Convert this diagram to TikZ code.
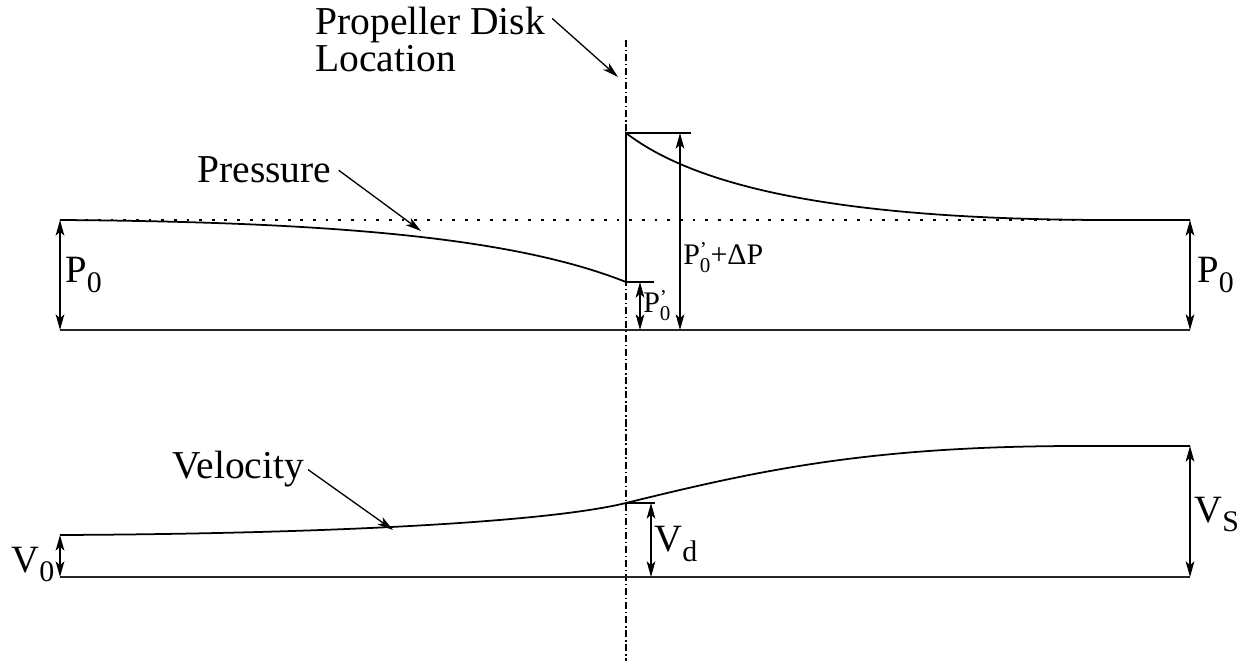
\documentclass[tikz,border=0pt]{standalone}
\usepackage{fontspec}
\setmainfont{Liberation Serif}
\usetikzlibrary{arrows.meta}
\newcommand\bigsub[1]{\raisebox{-0.24em}{\fontsize{17}{17}\selectfont #1}}
\newcommand\smsub[1]{\raisebox{-4pt}{\fontsize{12}{12}\selectfont #1}}
\newcommand\smprime{\rlap{\raisebox{5pt}{\fontsize{12}{12}\selectfont '}}}
\begin{document}
\begin{tikzpicture}[x=0.02cm,y=-0.02cm,
  tip/.tip={Stealth[length=9pt,width=5pt,inset=2.4pt]},
  curve/.style={line width=1pt},
  baseln/.style={line width=1.2pt, black!85},
  dimarrow/.style={{tip}-{tip}, line width=0.65pt},
  ptr/.style={-{tip}, line width=0.75pt},
  tick/.style={line width=0.9pt},
  disk/.style={line width=0.6pt, dash pattern=on 4pt off 1.6pt on 0.8pt off 1.6pt},
  ref/.style={line width=0.8pt, dash pattern=on 1.6pt off 5.6pt},
  lbl/.style={inner sep=0pt, font=\fontsize{22.5}{24}\selectfont, anchor=base west},
  biglbl/.style={inner sep=0pt, font=\fontsize{22}{24}\selectfont, anchor=base west},
  smlbl/.style={inner sep=0pt, font=\fontsize{17}{18}\selectfont, anchor=base west}]
\useasboundingbox (0,0) rectangle (1250,661);

% key coordinates
\coordinate (dtop) at (626,40);
\coordinate (dbot) at (626,661);
\coordinate (pl0) at (60,220);
\coordinate (pr0) at (1190,220);
\coordinate (plb) at (60,330);
\coordinate (prb) at (1190,330);
\coordinate (pdlow) at (626,282);
\coordinate (pdhigh) at (626,133);
\coordinate (ptickhi) at (691,133);
\coordinate (pticklo) at (654,282);
\coordinate (pa1top) at (640,282);
\coordinate (pa1bot) at (640,330);
\coordinate (pa2top) at (680,133);
\coordinate (pa2bot) at (680,330);
\coordinate (pflat) at (1100,220);
\coordinate (vl0) at (60,535);
\coordinate (vlb) at (60,577);
\coordinate (vrb) at (1190,577);
\coordinate (vr0) at (1190,446);
\coordinate (vflat) at (1080,446);
\coordinate (vd) at (626,503);
\coordinate (vdtick) at (655,503);
\coordinate (vdtop) at (651,503);
\coordinate (vdbot) at (651,577);
\coordinate (prestip) at (421,231);
\coordinate (veltip) at (393,530);
\coordinate (disktip) at (618,77);

% disk location line
\draw[disk] (dtop) -- (dbot);

% pressure diagram
\draw[ref] (pl0) -- (pr0);
\draw[baseln] (plb) -- (prb);
\draw[curve] (pl0) .. controls (350,222) and (520,240) .. (pdlow)
  -- (pdhigh) .. controls (700,190) and (850,219) .. (pflat) -- (pr0);
\draw[tick] (pdhigh) -- (ptickhi);
\draw[tick] (pdlow) -- (pticklo);
\draw[dimarrow] (pl0) -- (plb);
\draw[dimarrow] (pr0) -- (prb);
\draw[dimarrow] (pa1top) -- (pa1bot);
\draw[dimarrow] (pa2top) -- (pa2bot);

% velocity diagram
\draw[baseln] (vlb) -- (vrb);
\draw[curve] (vl0) .. controls (300,534) and (540,524) .. (vd)
  .. controls (760,470) and (870,446) .. (vflat) -- (vr0);
\draw[tick] (vd) -- (vdtick);
\draw[dimarrow] (vl0) -- (vlb);
\draw[dimarrow] (vr0) -- (vrb);
\draw[dimarrow] (vdtop) -- (vdbot);

% labels
\node[lbl] (prop) at (315,35) {Propeller Disk};
\node[lbl] (loc) at (315,72) {Location};
\node[lbl] (press) at (197,183) {Pressure};
\node[lbl] (vel) at (172,479) {Velocity};
\node[biglbl] (p0l) at (65,283) {P\bigsub{0}};
\node[biglbl] (p0r) at (1197,283) {P\bigsub{0}};
\node[biglbl] (v0) at (11,572) {V\bigsub{0}};
\node[biglbl] (vdl) at (654,552) {V\bigsub{d}};
\node[biglbl] (vsl) at (1194,522) {V\bigsub{S}};
\node[smlbl] (pp0) at (643,313) {P\smprime\smsub{0}};
\node[smlbl] (pdp) at (683,265) {P\smprime\smsub{0}+ΔP};

% pointers
\draw[ptr] ([xshift=4pt,yshift=4pt]prop.east) -- (disktip);
\draw[ptr] ([xshift=4pt]press.east) -- (prestip);
\draw[ptr] ([xshift=2pt]vel.east) -- (veltip);
\end{tikzpicture}
\end{document}
